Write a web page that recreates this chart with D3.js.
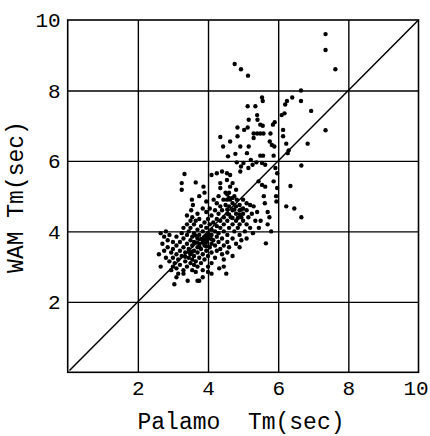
<!DOCTYPE html>
<html>
<head>
<meta charset="utf-8">
<script src="https://cdn.jsdelivr.net/npm/d3@7"></script>
<style>
  body { margin: 0; background: #fff; }
  text { font-family: "Liberation Mono", "DejaVu Sans Mono", monospace; fill: #000; }
</style>
</head>
<body>
<div id="chart"></div>
<script>
// tick values shown on both axes
const xTicks = [2, 4, 6, 8, 10]
const yTicks = [2, 4, 6, 8, 10]
const gridVals = [2, 4, 6, 8]

// scatter rows: WAM Tm value and the Palamo Tm values found at that level
const wamLevels = [
  9.6, 9.15, 8.75, 8.6, 8.42, 8.0, 7.8, 7.7, 7.6, 7.55, 7.42, 7.35, 7.3, 7.17, 7.1,
  7.03, 7.0, 6.95, 6.88, 6.87, 6.78, 6.7, 6.68, 6.65, 6.55, 6.49, 6.45, 6.41, 6.3,
  6.22, 6.2, 6.15, 6.13, 6.03, 5.96, 5.94, 5.89, 5.87, 5.84, 5.8, 5.7, 5.65, 5.63,
  5.6, 5.46, 5.42, 5.39, 5.37, 5.32, 5.29, 5.27, 5.23, 5.18, 5.1, 5.0, 4.9, 4.85,
  4.8, 4.75, 4.71, 4.65, 4.6, 4.55, 4.5, 4.45, 4.4, 4.35, 4.3, 4.25, 4.2, 4.15, 4.1,
  4.05, 4.0, 3.95, 3.9, 3.85, 3.8, 3.75, 3.7, 3.66, 3.65, 3.6, 3.55, 3.5, 3.45, 3.4,
  3.35, 3.3, 3.25, 3.2, 3.15, 3.1, 3.05, 3.0, 2.95, 2.9, 2.85, 2.8, 2.7, 2.6, 2.5,
  4.62, 4.48, 4.38, 3.88, 3.78, 3.68, 3.58, 4.95, 5.05, 3.42, 3.28
]
const palamoRows = [
  [7.35], [7.35], [4.76], [4.94, 7.63], [5.14], [6.65], [5.54, 6.4], [5.56, 6.25, 6.65],
  [6.2], [5.13, 5.35], [6.94], [6.18], [5.4, 6.1], [5.16, 5.41], [5.9],
  [5.49, 5.85], [5.56], [4.84, 5.13], [5.03, 6.14], [7.35], [5.3, 5.4, 5.49, 5.58, 5.78],
  [4.84, 6.14], [4.35], [5.3], [4.63, 5.76], [6.23, 6.84], [5.82], [4.43, 4.92, 5.16, 5.89],
  [6.3], [5.11, 6.27], [4.78], [5.49, 5.57, 5.87], [4.57], [5.22], [5.38, 4.82],
  [5.01, 5.54], [5.27, 5.63], [6.66], [4.94], [5.92, 5.15], [4.92, 4.4], [5.97, 4.25, 4.54],
  [3.33], [4.63, 4.1], [4.54], [5.87, 5.44], [3.65], [3.25, 4.35, 4.7], [5.54], [6.35],
  [3.87, 5.63, 4.63], [5.97, 4.35], [3.25, 4.8], [3.9, 4.5, 4.6],
  [5.59, 5.94, 4.3, 4.75, 3.75], [3.54, 4.16, 4.44, 4.54, 4.63, 4.82, 5.0], [5.95, 3.95],
  [5.62, 4.25, 4.7, 5.1], [3.57, 4.5, 4.9, 5.2], [6.23, 4.35, 4.6, 4.8, 5.3],
  [6.46, 3.85, 4.05, 5.0], [3.52, 4.2, 4.4, 4.7, 4.9, 5.1], [5.4, 5.7, 3.95],
  [4.3, 4.55, 4.8, 5.0, 5.25, 3.7], [3.4, 4.1], [6.66, 3.55, 4.45, 4.65, 4.95, 5.15, 5.75],
  [3.75, 4.0, 4.25], [3.5, 3.65, 4.35, 4.55, 4.8, 5.0, 5.35, 5.5], [3.9, 4.15],
  [3.4, 3.6, 4.05, 4.45, 4.7, 4.9, 5.1, 5.7], [3.8, 4.25],
  [3.3, 3.5, 3.95, 4.35, 4.6, 4.85, 5.2, 5.45], [3.7, 4.1],
  [2.8, 3.45, 3.85, 4.2, 4.45, 4.75, 5.05, 5.8], [2.65, 3.25, 3.6, 4.0, 4.3, 5.28],
  [2.9, 3.4, 3.75, 4.1, 4.55, 4.9], [2.75, 3.1, 3.55, 3.9, 4.25],
  [3.3, 3.7, 4.0, 4.4, 4.7, 5.1], [2.85, 3.5, 3.85, 4.15, 4.95],
  [3.0, 3.2, 3.6, 3.95, 4.3, 4.55], [5.65], [2.7, 3.4, 3.75, 4.1, 4.8],
  [3.1, 3.55, 3.9, 4.2, 4.45], [2.85, 3.3, 3.7, 4.05, 4.6, 4.9], [3.0, 3.45, 3.8, 4.35],
  [2.75, 3.2, 3.6, 3.95, 4.25], [2.95, 3.35, 3.7, 4.1, 4.55], [2.6, 3.1, 3.5, 3.85, 4.4],
  [3.25, 3.6, 4.0, 4.7], [2.8, 3.0, 3.45, 3.75, 4.2], [3.15, 3.55, 3.9, 4.45],
  [2.9, 3.35, 3.65], [3.05, 3.5, 3.8, 4.1], [3.2, 3.6], [2.65, 3.0, 3.4, 3.7, 4.0, 4.45],
  [3.1, 4.32], [2.95, 3.3, 3.55, 3.85], [3.65, 4.0], [3.15, 3.3, 4.1, 4.52], [3.1, 3.85],
  [3.42, 3.7, 3.75], [3.04],
  [4.55, 4.75, 4.95], [4.6, 4.9], [4.7, 4.85], [3.65, 3.95, 4.05], [3.8, 3.9, 4.1],
  [3.65, 3.85], [3.75, 3.95], [4.6, 4.7], [4.55], [3.45, 3.55], [3.35]
]

const points = []
wamLevels.forEach((w, i) => {
  palamoRows[i].forEach(p => points.push({ palamo: p, wam: w }))
})

const width = 430
const height = 436
const margin = { top: 20, right: 11.5, bottom: 63.7, left: 67.7 }
const innerW = width - margin.left - margin.right
const innerH = height - margin.top - margin.bottom

const svg = d3
  .select('#chart')
  .append('svg')
  .attr('width', width)
  .attr('height', height)

const g = svg.append('g').attr('transform', `translate(${margin.left},${margin.top})`)

const x = d3.scaleLinear().domain([0, 10]).range([0, innerW])
const y = d3.scaleLinear().domain([0, 10]).range([innerH, 0])

// grid lines
g.append('g')
  .attr('transform', `translate(0,${innerH})`)
  .call(d3.axisBottom(x).tickValues(gridVals).tickSize(-innerH).tickFormat(''))
  .call(a => a.select('.domain').remove())
  .selectAll('line')
  .attr('stroke', '#000')
  .attr('stroke-width', 1.4)

g.append('g')
  .call(d3.axisLeft(y).tickValues(gridVals).tickSize(-innerW).tickFormat(''))
  .call(a => a.select('.domain').remove())
  .selectAll('line')
  .attr('stroke', '#000')
  .attr('stroke-width', 1.4)

// frame
g.append('rect')
  .attr('width', innerW)
  .attr('height', innerH)
  .attr('fill', 'none')
  .attr('stroke', '#000')
  .attr('stroke-width', 1.6)

// 1:1 line
g.append('line')
  .attr('x1', x(0.05))
  .attr('y1', y(0.05))
  .attr('x2', x(10))
  .attr('y2', y(10))
  .attr('stroke', '#000')
  .attr('stroke-width', 1.5)

// tick labels
const xAxis = g.append('g')
  .attr('transform', `translate(0,${innerH})`)
  .call(d3.axisBottom(x).tickValues(xTicks).tickSize(0).tickPadding(8))
xAxis.select('.domain').remove()
xAxis.selectAll('text')
  .style('font-family', '"Liberation Mono", monospace')
  .style('font-size', '21px')
// keep the last label inside the page edge
xAxis.selectAll('.tick')
  .filter(d => d === 10)
  .select('text')
  .attr('x', -3)

const yAxis = g.append('g')
  .call(d3.axisLeft(y).tickValues(yTicks).tickSize(0).tickPadding(7))
yAxis.select('.domain').remove()
yAxis.selectAll('text')
  .style('font-family', '"Liberation Mono", monospace')
  .style('font-size', '21px')

// points
g.append('g')
  .selectAll('circle')
  .data(points)
  .enter()
  .append('circle')
  .attr('cx', d => x(d.palamo))
  .attr('cy', d => y(d.wam))
  .attr('r', 2.2)
  .attr('fill', '#000')

// axis titles
svg.append('text')
  .attr('x', 241)
  .attr('y', 429)
  .attr('text-anchor', 'middle')
  .style('white-space', 'pre')
  .style('font-size', '23px')
  .text('Palamo  Tm(sec)')

svg.append('text')
  .attr('transform', 'translate(23,197) rotate(-90)')
  .attr('text-anchor', 'middle')
  .style('font-size', '23px')
  .text('WAM Tm(sec)')
</script>
</body>
</html>
